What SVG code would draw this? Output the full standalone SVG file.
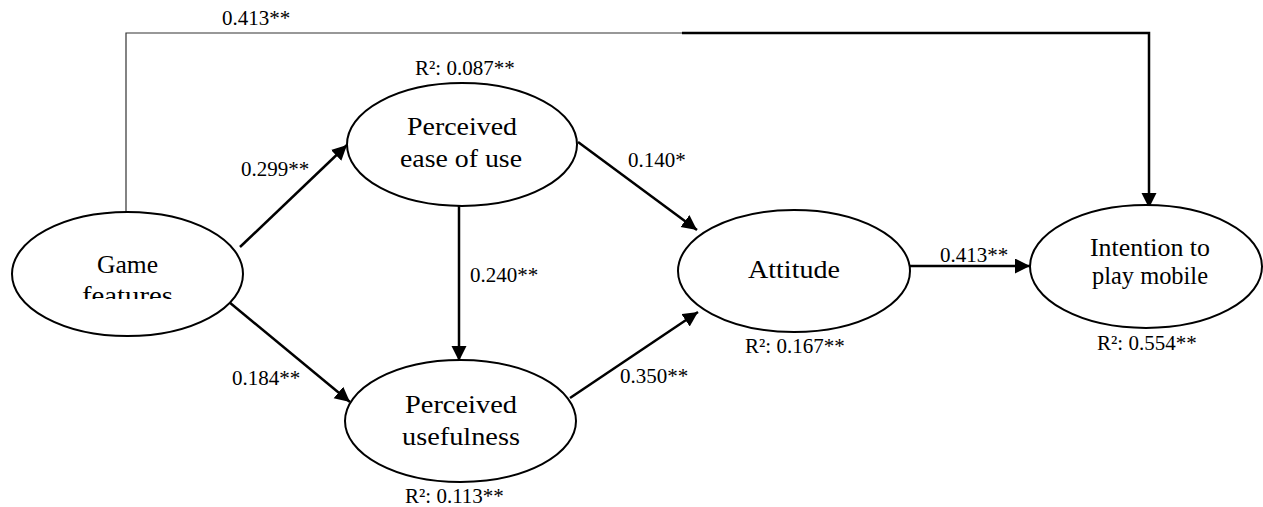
<svg xmlns="http://www.w3.org/2000/svg" width="1263" height="507" viewBox="0 0 1263 507">
  <style>
    .node ellipse { fill: #ffffff; stroke: #000000; stroke-width: 2; }
    .ntext { font-family: "Liberation Serif", "Times New Roman", serif; font-size: 26px; fill: #000000; text-anchor: middle; }
    .lbl { font-family: "Liberation Serif", "Times New Roman", serif; font-size: 21px; fill: #000000; }
    .conn { fill: none; stroke: #000000; stroke-width: 2.5; }
    .thin { fill: none; stroke: #333333; stroke-width: 1.2; }
  </style>
  <defs>
    <marker id="arrow" markerUnits="userSpaceOnUse" markerWidth="16" markerHeight="16" refX="15" refY="7.5" orient="auto">
      <path d="M0,0 L15,7.5 L0,15 Z" fill="#000000"/>
    </marker>
    <clipPath id="clipGame">
      <rect x="0" y="200" width="260" height="99"/>
    </clipPath>
  </defs>
  <rect width="1263" height="507" fill="#ffffff"/>

  <g id="connectors">
    <path class="thin" d="M126,215 V33 H683"/>
    <path class="conn" d="M682,33 H1149 V208" marker-end="url(#arrow)"/>
    <line class="conn" x1="240" y1="247" x2="347" y2="145" marker-end="url(#arrow)"/>
    <line class="conn" x1="229" y1="302" x2="350" y2="402" marker-end="url(#arrow)"/>
    <line class="conn" x1="459" y1="206" x2="459" y2="361" marker-end="url(#arrow)"/>
    <line class="conn" x1="578" y1="142" x2="697" y2="230" marker-end="url(#arrow)"/>
    <line class="conn" x1="570" y1="398" x2="698" y2="312" marker-end="url(#arrow)"/>
    <line class="conn" x1="910" y1="266" x2="1030" y2="266" marker-end="url(#arrow)"/>
  </g>

  <g id="game-features" class="node">
    <ellipse cx="127.5" cy="274" rx="115.5" ry="62"/>
    <text class="ntext" x="127.5" y="273" textLength="61" lengthAdjust="spacingAndGlyphs">Game</text>
    <text class="ntext" x="127.5" y="304" textLength="91" lengthAdjust="spacingAndGlyphs" clip-path="url(#clipGame)">features</text>
  </g>

  <g id="perceived-ease-of-use" class="node">
    <ellipse cx="462" cy="144.5" rx="115" ry="61.5"/>
    <text class="ntext" x="462" y="135" textLength="110" lengthAdjust="spacingAndGlyphs">Perceived</text>
    <text class="ntext" x="461" y="167" textLength="122" lengthAdjust="spacingAndGlyphs">ease of use</text>
  </g>

  <g id="perceived-usefulness" class="node">
    <ellipse cx="460.5" cy="421" rx="115.5" ry="61"/>
    <text class="ntext" x="461" y="413" textLength="112" lengthAdjust="spacingAndGlyphs">Perceived</text>
    <text class="ntext" x="461" y="445" textLength="118" lengthAdjust="spacingAndGlyphs">usefulness</text>
  </g>

  <g id="attitude" class="node">
    <ellipse cx="794" cy="271" rx="116" ry="61"/>
    <text class="ntext" x="794" y="278" textLength="92" lengthAdjust="spacingAndGlyphs">Attitude</text>
  </g>

  <g id="intention" class="node">
    <ellipse cx="1146" cy="266.5" rx="116" ry="61.5"/>
    <text class="ntext" x="1150" y="256" textLength="120" lengthAdjust="spacingAndGlyphs" style="font-size:25px">Intention to</text>
    <text class="ntext" x="1150" y="284" textLength="116" lengthAdjust="spacingAndGlyphs" style="font-size:25px">play mobile</text>
  </g>

  <g id="labels">
    <text class="lbl" x="222" y="25">0.413**</text>
    <text class="lbl" x="415" y="75">R²: 0.087**</text>
    <text class="lbl" x="241" y="176">0.299**</text>
    <text class="lbl" x="628" y="167">0.140*</text>
    <text class="lbl" x="470" y="282">0.240**</text>
    <text class="lbl" x="940" y="262">0.413**</text>
    <text class="lbl" x="745" y="353">R²: 0.167**</text>
    <text class="lbl" x="1097" y="350">R²: 0.554**</text>
    <text class="lbl" x="232" y="385">0.184**</text>
    <text class="lbl" x="620" y="383">0.350**</text>
    <text class="lbl" x="405" y="503">R²: 0.113**</text>
  </g>
</svg>
